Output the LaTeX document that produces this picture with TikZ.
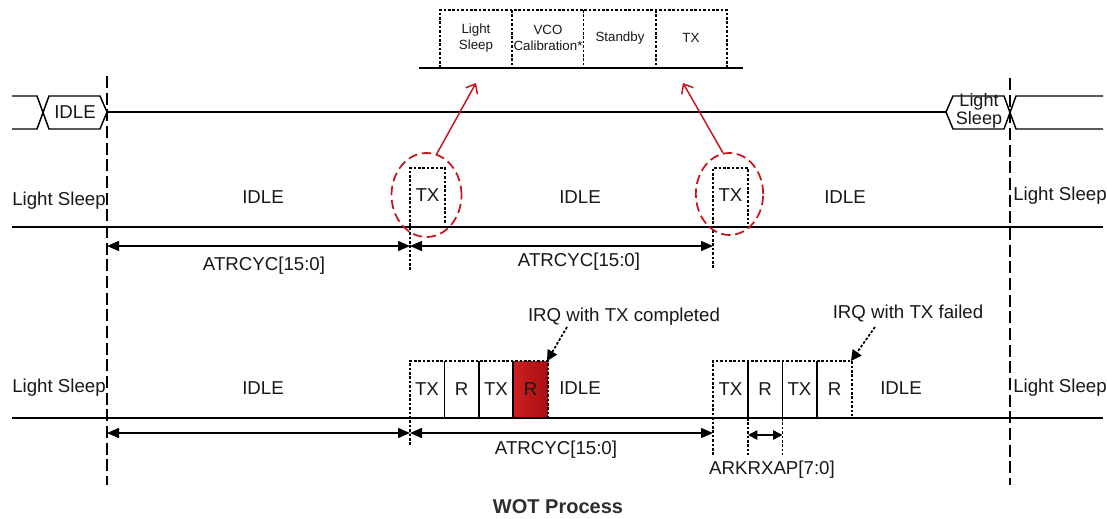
\documentclass[tikz,border=0pt]{standalone}
\usepackage{fontspec}
\setmainfont{Liberation Sans}
\usetikzlibrary{arrows.meta,shapes.geometric}
\definecolor{wred}{RGB}{196,20,28}
\definecolor{txt}{RGB}{24,24,24}
\definecolor{ttl}{RGB}{45,45,50}
\begin{document}
\begin{tikzpicture}[x=0.75pt,y=-0.75pt,
  line/.style={line width=1.1pt, black},
  vdash/.style={line width=1pt, dash pattern=on 9pt off 3.5pt},
  dotbox/.style={line width=1.3pt, dash pattern=on 2pt off 1.3pt},
  divl/.style={line width=0.9pt, black},
  lbl/.style={font=\fontsize{14}{16}\selectfont, text=txt, inner sep=0pt},
  tiny/.style={font=\fontsize{10}{12}\selectfont, text=txt, align=center, inner sep=0pt},
  dim/.style={line width=1.1pt, {Triangle[length=9pt,width=7.5pt]}-{Triangle[length=9pt,width=7.5pt]}},
  sdim/.style={line width=1.1pt, {Triangle[length=7pt,width=7pt]}-{Triangle[length=7pt,width=7pt]}},
  redarr/.style={line width=1.1pt, wred, -{Straight Barb[length=6pt,width=10pt]}},
  irq/.style={line width=1.3pt, dash pattern=on 2pt off 1.3pt, -{Triangle[length=8pt,width=8pt]}},
  ring/.style={draw=wred, line width=1.3pt, dash pattern=on 7pt off 3.5pt, ellipse, inner sep=0pt}
]
\useasboundingbox (0,0) rectangle (1107,518);

% ---------- top detail boxes ----------
\coordinate (tl0) at (419,68);
\coordinate (tl1) at (743,68);
\draw[line] (tl0) -- (tl1);
\draw[dotbox] (440,68) -- (440,10) -- (727,10) -- (727,68);
\foreach \x in {512,583.5,656} \draw[dotbox] (\x,10) -- (\x,68);
\node[tiny] (tls) at (476,38) {Light\\Sleep};
\node[tiny] (tvco) at (548,38) {VCO\\Calibration*};
\node[tiny] (tsb) at (620,38) {Standby};
\node[tiny] (ttx) at (691,38) {TX};
\coordinate (tgt1) at (476,83);
\coordinate (tgt2) at (683,83);

% ---------- hexagon timeline ----------
\draw[line] (12,96) -- (37,96) -- (49,129) -- (100,129) -- (107,112) -- (100,96) -- (49,96) -- (37,129) -- (12,129);
\node[lbl] (hidle) at (75,112) {IDLE};
\coordinate (hl) at (107,112);
\coordinate (hr) at (946,112);
\draw[line] (hl) -- (hr);
\draw[line] (hr) -- (953,96) -- (1004,96) -- (1016,129) -- (1103,129);
\draw[line] (hr) -- (953,129) -- (1004,129) -- (1016,96) -- (1103,96);
\node[lbl, align=center, font=\fontsize{13.5}{11}\selectfont] (hls) at (979,111) {Light\\Sleep};

% ---------- vertical dashed markers ----------
\coordinate (vl0) at (107,76);
\coordinate (vl1) at (107,485);
\coordinate (vr0) at (1010,78);
\coordinate (vr1) at (1010,485);
\draw[vdash] (vl0) -- (vl1);
\draw[vdash] (vr0) -- (vr1);

% ---------- row 2 ----------
\coordinate (r2a) at (12,227);
\coordinate (r2b) at (1103,227);
\draw[line] (r2a) -- (r2b);
\node[lbl, anchor=west] (r2ls) at (12,201) {Light Sleep};
\node[lbl, anchor=west] (r2rs) at (1013,196) {Light Sleep};
\node[lbl] (r2i1) at (263,197) {IDLE};
\node[lbl] (r2i2) at (580,197) {IDLE};
\node[lbl] (r2i3) at (845,197) {IDLE};
\draw[dotbox] (410,270) -- (410,168) -- (445,168) -- (445,224);
\draw[dotbox] (713,268) -- (713,168) -- (748,168) -- (748,224);
\node[lbl] (r2tx1) at (427.5,195) {TX};
\node[lbl] (r2tx2) at (730.5,195) {TX};
\node[ring, minimum width=52.5pt, minimum height=63pt] (ring1) at (426.5,195) {};
\node[ring, minimum width=50.5pt, minimum height=61.5pt] (ring2) at (729.5,194) {};
\draw[redarr] (ring1.76) -- (tgt1);
\draw[redarr] (ring2.99) -- (tgt2);
\coordinate (d2a) at (107,246);
\coordinate (d2b) at (410,246);
\coordinate (d2c) at (713,246);
\draw[dim] (d2a) -- (d2b);
\draw[dim] (d2b) -- (d2c);
\node[lbl] (a2l1) at (264,266) {ATRCYC[15:0]};
\node[lbl] (a2l2) at (579,262) {ATRCYC[15:0]};

% ---------- row 3 ----------
\coordinate (r3a) at (12,418);
\coordinate (r3b) at (1103,418);
\fill[left color={rgb,255:red,206;green,32;blue,32}, right color={rgb,255:red,168;green,14;blue,18}] (513,361) rectangle (548,418);
\draw[line] (r3a) -- (r3b);
\node[lbl, anchor=west] (r3ls) at (12,388) {Light Sleep};
\node[lbl, anchor=west] (r3rs) at (1013,388) {Light Sleep};
\node[lbl] (r3i1) at (263,388) {IDLE};
\node[lbl] (r3i2) at (580,388) {IDLE};
\node[lbl] (r3i3) at (901,388) {IDLE};
% group 1
\draw[dotbox] (410,445) -- (410,361) -- (548,361) -- (548,418);
\foreach \x in {444.5,479,513} \draw[divl] (\x,361) -- (\x,418);
\node[lbl] (g1a) at (427,389) {TX};
\node[lbl] (g1b) at (461.5,389) {R};
\node[lbl] (g1c) at (496,389) {TX};
\node[lbl] (g1d) at (530.5,389) {R};
% group 2
\draw[dotbox] (713,455) -- (713,361) -- (852,361) -- (852,416);
\foreach \x in {748,782.5,817} \draw[divl] (\x,361) -- (\x,418);
\draw[dotbox] (748,418) -- (748,455);
\draw[dotbox] (782.5,418) -- (782.5,455);
\node[lbl] (g2a) at (730.5,389) {TX};
\node[lbl] (g2b) at (765,389) {R};
\node[lbl] (g2c) at (799.5,389) {TX};
\node[lbl] (g2d) at (834.5,389) {R};
% IRQ callouts
\node[lbl] (irq1) at (624,317) {IRQ with TX completed};
\node[lbl] (irq2) at (908,313) {IRQ with TX failed};
\coordinate (irq1s) at (567,327);
\coordinate (irq1t) at (547,361);
\coordinate (irq2s) at (875,327);
\coordinate (irq2t) at (851,361);
\draw[irq] (irq1s) -- (irq1t);
\draw[irq] (irq2s) -- (irq2t);
% dimension arrows
\coordinate (d3a) at (107,433);
\coordinate (d3b) at (410,433);
\coordinate (d3c) at (713,433);
\coordinate (d3d) at (748,435);
\coordinate (d3e) at (782.5,435);
\draw[dim] (d3a) -- (d3b);
\draw[dim] (d3b) -- (d3c);
\draw[sdim] (d3d) -- (d3e);
\node[lbl] (a3l) at (556,450) {ATRCYC[15:0]};
\node[lbl] (ark) at (772,470) {ARKRXAP[7:0]};

% ---------- title ----------
\node[font=\bfseries\fontsize{15}{17}\selectfont, text=ttl, inner sep=0pt] (title) at (558,507) {WOT Process};
\end{tikzpicture}
\end{document}
